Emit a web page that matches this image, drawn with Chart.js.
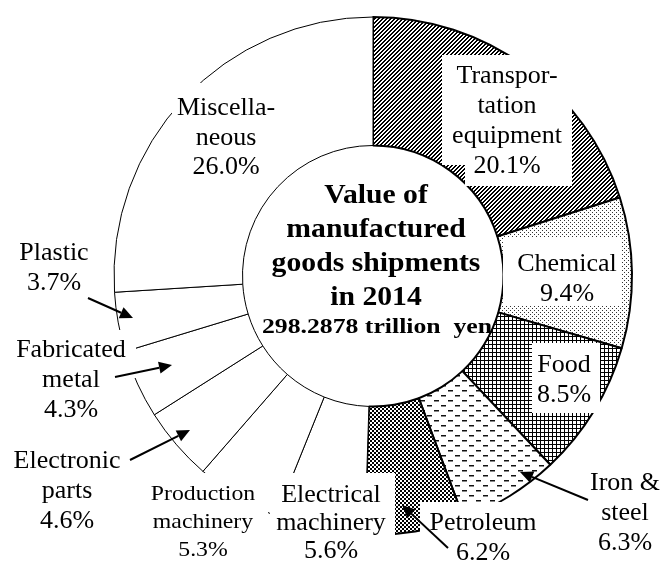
<!DOCTYPE html>
<html>
<head>
<meta charset="utf-8">
<script src="https://cdn.jsdelivr.net/npm/chart.js@4"></script>
<style>
html,body{margin:0;padding:0;background:#fff;}
canvas{display:block;}
</style>
</head>
<body>
<canvas id="c" width="665" height="563"></canvas>
<script>
// ---- data ----
const categories = ["Transportation equipment","Chemical","Food","Iron & steel","Petroleum","Electrical machinery","Production machinery","Electronic parts","Fabricated metal","Plastic","Miscellaneous"];
const shares = [20.1, 9.4, 8.5, 6.3, 6.2, 5.6, 5.3, 4.6, 4.3, 3.7, 26.0];
const labelLines = [
  ["Transpor-","tation","equipment"],
  ["Chemical"],
  ["Food"],
  ["Iron &","steel"],
  ["Petroleum"],
  ["Electrical","machinery"],
  ["Production","machinery"],
  ["Electronic","parts"],
  ["Fabricated","metal"],
  ["Plastic"],
  ["Miscella-","neous"]
];
const centerTitle = ["Value of","manufactured","goods shipments","in 2014"];
const centerTotal = "298.2878 trillion  yen";

// ---- layout (label placement) ----
const labelLayout = [
  {cx:507, y:83, lh:30},
  {cx:567, y:271, lh:30},
  {cx:564, y:372, lh:30},
  {cx:625, y:490, lh:30},
  {cx:483, y:530, lh:30},
  {cx:331, y:502, lh:28},
  {cx:203, y:500, lh:28, size:22, sx:1.08},
  {cx:67, y:468, lh:30},
  {cx:71, y:357, lh:30},
  {cx:54, y:260, lh:30},
  {cx:226, y:115, lh:29.5}
];
const whiteBoxes = [
  [442,55,130,110],[465,165,107,21],
  [503,238,119,68],
  [532,343,68,70],
  [420,502,125,61],
  [270,473,125,90],
  [140,473,128,90],
  [10,330,126,48],
  [172,83,108,97]
];
const arrows = [
  [588,500,520,472],
  [448,548,402,505],
  [130,460,190,430],
  [115,377,172,365],
  [88,298,133,318]
];
const SERIF = '"Liberation Serif", "Times New Roman", serif';

// ---- patterns ----
function makePattern(w,h,fn){
  const c=document.createElement('canvas');c.width=w;c.height=h;
  const x=c.getContext('2d');
  x.fillStyle='#fff';x.fillRect(0,0,w,h);
  fn(x);
  return document.getElementById('c').getContext('2d').createPattern(c,'repeat');
}
const pDiag = makePattern(4,4,x=>{x.fillStyle='#000';for(let i=0;i<4;i++)for(let j=0;j<4;j++){if((i+j)%4<2)x.fillRect(i,j,1,1);}});
const pDots = makePattern(4,4,x=>{x.fillStyle='#333';x.fillRect(0,0,1,1);x.fillRect(2,2,1,1);});
const pGrid = makePattern(4,4,x=>{x.fillStyle='#000';x.fillRect(0,0,4,1);x.fillRect(0,0,1,4);});
const pDash = makePattern(14,10,x=>{x.fillStyle='#111';x.fillRect(0,0,5,1);x.fillRect(7,5,5,1);x.fillStyle='#888';x.fillRect(0,1,5,1);x.fillRect(7,6,5,1);});
const pCheck = makePattern(4,4,x=>{x.fillStyle='#000';x.fillRect(0,0,4,4);x.fillStyle='#fff';x.fillRect(0,0,2,2);x.fillRect(2,2,2,2);});
const fills = [pDiag,pDots,pGrid,pDash,pCheck,'#fff','#fff','#fff','#fff','#fff','#fff'];
const borders = [2,2,2,2,2,1,1,1,1,1,1];

function drawLines(ctx, lines, cx, y, lh, font, sx){
  ctx.save();
  ctx.font = font;
  ctx.fillStyle = '#000';
  ctx.textAlign = 'center';
  ctx.textBaseline = 'alphabetic';
  lines.forEach((t,i)=>{
    ctx.save();
    ctx.translate(cx, y+i*lh);
    ctx.scale(sx||1,1);
    ctx.fillText(t,0,0);
    ctx.restore();
  });
  ctx.restore();
}

const labelPlugin = {
  id:'labels',
  afterDatasetsDraw(chart){
    const ctx = chart.ctx;
    ctx.save();
    ctx.fillStyle='#fff';
    whiteBoxes.forEach(b=>ctx.fillRect(b[0],b[1],b[2],b[3]));
    ctx.strokeStyle='#000';ctx.fillStyle='#000';ctx.lineWidth=2;
    arrows.forEach(a=>{
      const [x1,y1,x2,y2]=a;
      const ang=Math.atan2(y2-y1,x2-x1);
      const hl=13, hw=6;
      const bx=x2-hl*Math.cos(ang), by=y2-hl*Math.sin(ang);
      ctx.beginPath();ctx.moveTo(x1,y1);ctx.lineTo(bx,by);ctx.stroke();
      ctx.beginPath();
      ctx.moveTo(x2,y2);
      ctx.lineTo(bx+hw*Math.sin(ang),by-hw*Math.cos(ang));
      ctx.lineTo(bx-hw*Math.sin(ang),by+hw*Math.cos(ang));
      ctx.closePath();ctx.fill();
    });
    ctx.restore();
    labelLines.forEach((lines,i)=>{
      const L = labelLayout[i];
      const size = L.size||26;
      const all = lines.concat([shares[i].toFixed(1)+'%']);
      drawLines(ctx, all, L.cx, L.y, L.lh, 'normal 400 '+size+'px '+SERIF, L.sx);
    });
    const meta = chart.getDatasetMeta(0).data[0];
    drawLines(ctx, centerTitle, meta.x+3, meta.y-73, 34, 'bold 27px '+SERIF, 1.1);
    drawLines(ctx, [centerTotal], meta.x+4, meta.y+57, 0, 'bold 22px '+SERIF, 1.17);
  }
};

new Chart(document.getElementById('c'), {
  type:'doughnut',
  data:{
    labels: categories,
    datasets:[{
      data: shares,
      backgroundColor: fills,
      borderColor:'#000',
      borderWidth: borders,
      hoverOffset:0,
      offset:0
    }]
  },
  options:{
    responsive:false,
    animation:false,
    devicePixelRatio:1,
    radius:259,
    cutout:130,
    layout:{padding:{left:114,right:33,top:17,bottom:28}},
    plugins:{legend:{display:false},tooltip:{enabled:false}},
    events:[]
  },
  plugins:[labelPlugin]
});
</script>
</body>
</html>
